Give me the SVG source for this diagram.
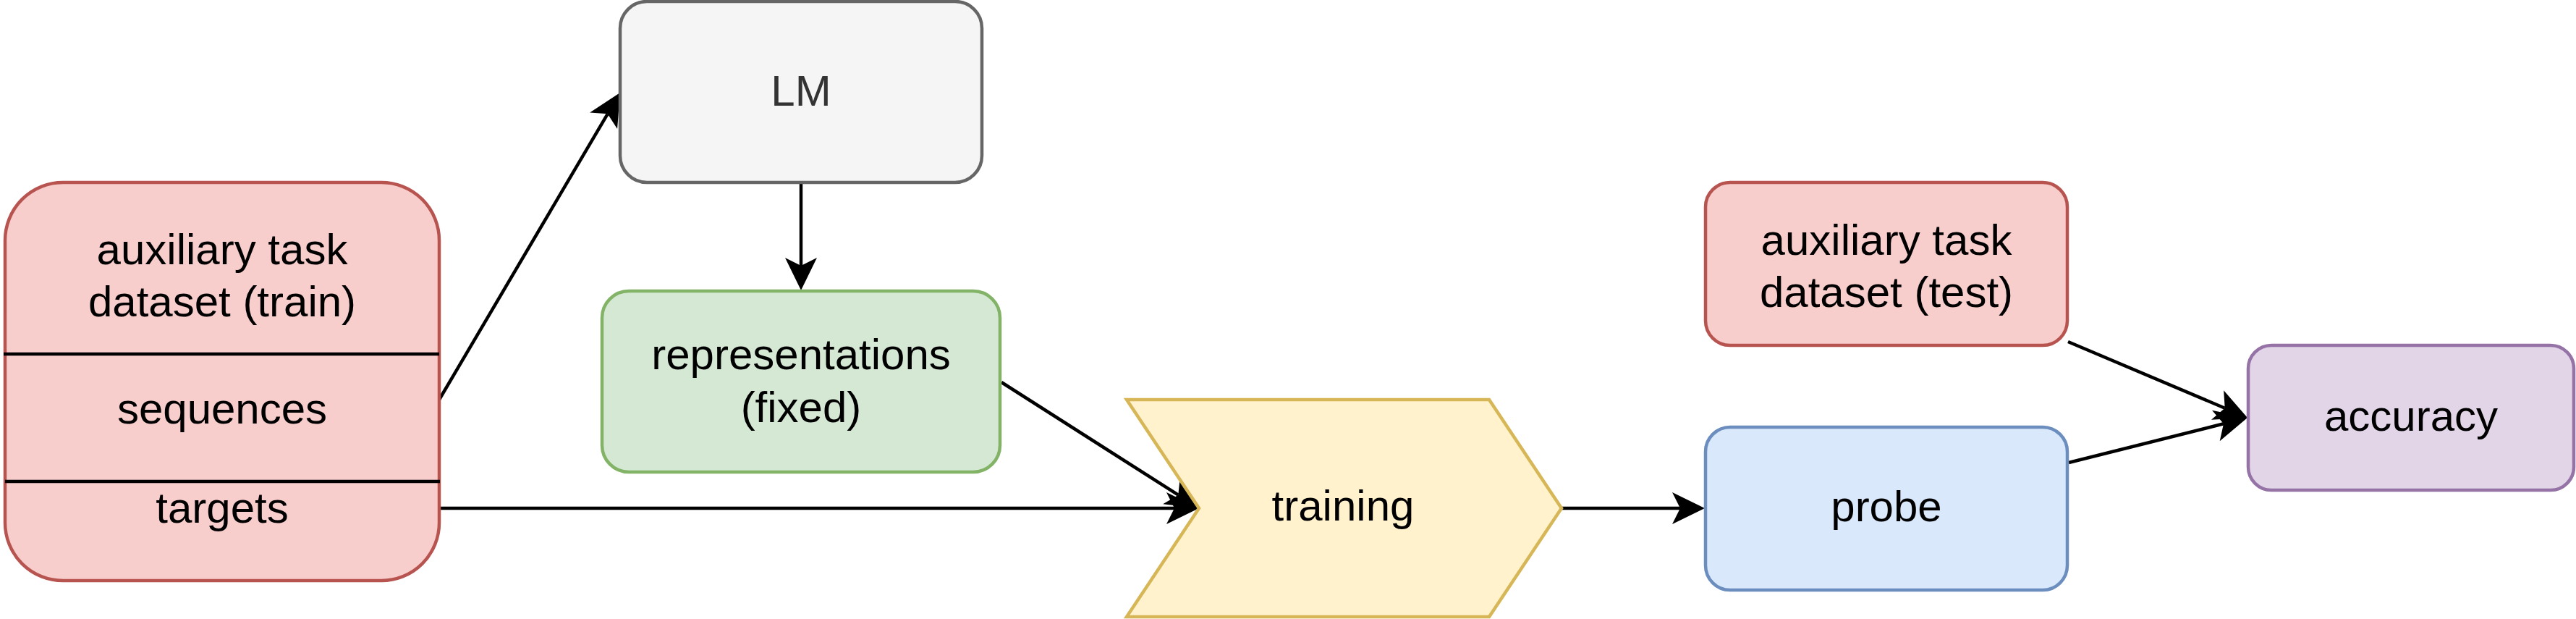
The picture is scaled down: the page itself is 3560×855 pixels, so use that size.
<svg xmlns="http://www.w3.org/2000/svg" width="3560" height="855" viewBox="0 0 3560 855">
  <style>
    .lbl { font-family: "Liberation Sans", Arial, Helvetica, sans-serif; font-size: 60px; text-anchor: middle; fill: #000000; }
    .box { stroke-width: 4.5; }
    .red { fill: #f8cecc; stroke: #b85450; }
    .gray { fill: #f5f5f5; stroke: #666666; }
    .green { fill: #d5e8d4; stroke: #82b366; }
    .yellow { fill: #fff2cc; stroke: #d6b656; }
    .blue { fill: #dae8fc; stroke: #6c8ebf; }
    .purple { fill: #e1d5e7; stroke: #9673a6; }
    .edge { fill: none; stroke: #000000; stroke-width: 4.5; marker-end: url(#arrow); }
    .divider { stroke: #000000; stroke-width: 4.5; }
  </style>
  <defs>
    <marker id="arrow" markerUnits="userSpaceOnUse" markerWidth="60" markerHeight="60" viewBox="-50 -30 60 60" refX="-34" refY="0" orient="auto" overflow="visible">
      <path d="M0,0 L-45,-22 L-34,0 L-45,22 Z" fill="#000000" stroke="none"/>
    </marker>
  </defs>

  <rect width="3560" height="855" fill="#ffffff"/>

  <g id="connectors">
    <line class="edge" x1="607" y1="552" x2="839.7" y2="157.3"/>
    <line class="edge" x1="1107" y1="254" x2="1107" y2="367"/>
    <line class="edge" x1="607" y1="702" x2="1623" y2="702"/>
    <line class="edge" x1="1384" y1="528" x2="1628.3" y2="683.7"/>
    <line class="edge" x1="2158" y1="702" x2="2322" y2="702"/>
    <line class="edge" x1="2858" y1="472" x2="3074.7" y2="563.7"/>
    <line class="edge" x1="2859" y1="639" x2="3073" y2="585.3"/>
  </g>

  <g id="train-dataset">
    <rect class="box red" x="7" y="252" width="600" height="550" rx="80" ry="80"/>
    <line class="divider" x1="5" y1="489" x2="607" y2="489"/>
    <line class="divider" x1="7" y1="665" x2="608" y2="665"/>
    <text class="lbl" x="307" y="365">auxiliary task</text>
    <text class="lbl" x="307" y="437">dataset (train)</text>
    <text class="lbl" x="307" y="585">sequences</text>
    <text class="lbl" x="307" y="722">targets</text>
  </g>

  <g id="lm">
    <rect class="box gray" x="857" y="2" width="500" height="250" rx="37" ry="37"/>
    <text class="lbl" x="1107" y="146" style="fill:#333333">LM</text>
  </g>

  <g id="representations">
    <rect class="box green" x="832" y="402" width="550" height="250" rx="37" ry="37"/>
    <text class="lbl" x="1107" y="510">representations</text>
    <text class="lbl" x="1107" y="583">(fixed)</text>
  </g>

  <g id="training">
    <polygon class="box yellow" points="1557,552 2058,552 2158,702 2058,852 1557,852 1657,702"/>
    <text class="lbl" x="1856" y="719">training</text>
  </g>

  <g id="test-dataset">
    <rect class="box red" x="2357" y="252" width="500" height="225" rx="34" ry="34"/>
    <text class="lbl" x="2607" y="352">auxiliary task</text>
    <text class="lbl" x="2607" y="424">dataset (test)</text>
  </g>

  <g id="probe">
    <rect class="box blue" x="2357" y="590" width="500" height="225" rx="34" ry="34"/>
    <text class="lbl" x="2607" y="720">probe</text>
  </g>

  <g id="accuracy">
    <rect class="box purple" x="3107" y="477" width="450" height="200" rx="32" ry="32"/>
    <text class="lbl" x="3332" y="595">accuracy</text>
  </g>
</svg>
